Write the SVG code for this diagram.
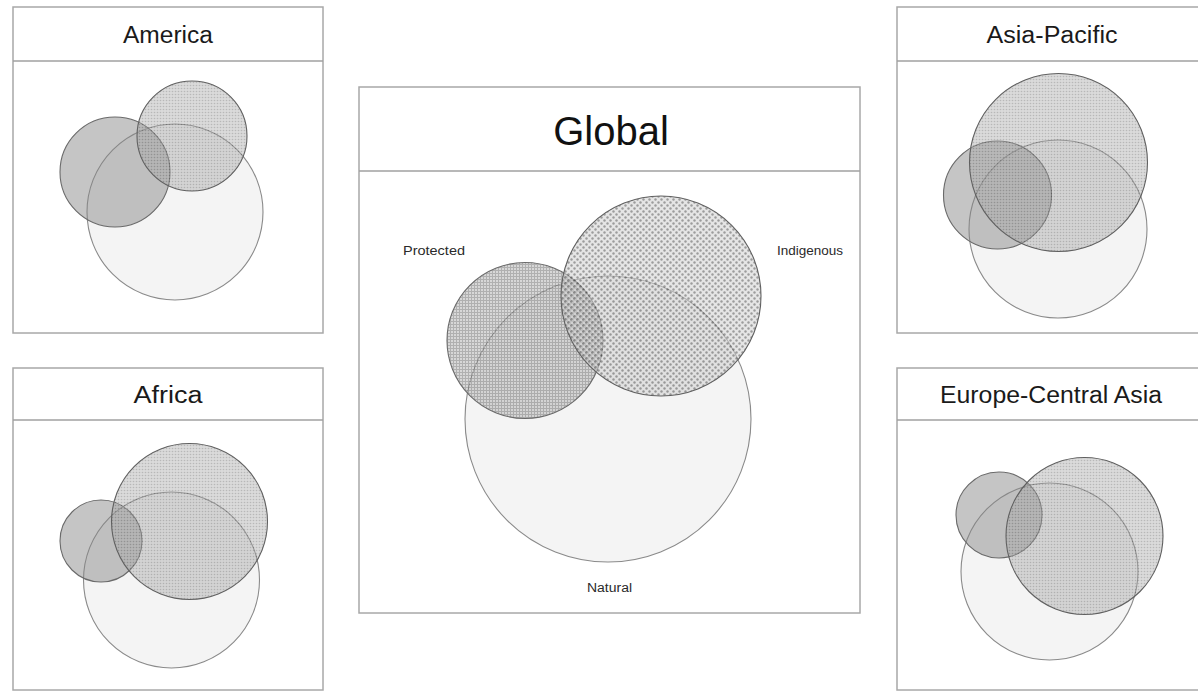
<svg xmlns="http://www.w3.org/2000/svg" width="1198" height="692" viewBox="0 0 1198 692">
<style>
.panel{fill:#fff;stroke:#a8a8a8;stroke-width:1.5}
.hdr{stroke:#a0a0a0;stroke-width:1.5}
.title{font-family:"Liberation Sans",Arial,sans-serif;font-size:23px;fill:#1a1a1a;text-anchor:middle}
.gtitle{font-family:"Liberation Sans",Arial,sans-serif;font-size:40px;fill:#111;text-anchor:middle}
.lbl{font-family:"Liberation Sans",Arial,sans-serif;font-size:12.5px;fill:#2a2a2a;text-anchor:middle}
.nat{fill:#f4f4f4;stroke:#8a8a8a;stroke-width:1.1}
.pro{fill:#858585;fill-opacity:.48;stroke:#6a6a6a;stroke-width:1.1}
.ind{fill:url(#dotsS);fill-opacity:.42;stroke:#606060;stroke-width:1.1}
.gpro{fill:url(#grid);fill-opacity:.6;stroke:#6a6a6a;stroke-width:1.1}
.gind{fill:url(#dotsL);fill-opacity:.55;stroke:#606060;stroke-width:1.1}
</style>
<defs>
<pattern id="dotsS" width="3" height="3" patternUnits="userSpaceOnUse"><rect width="3" height="3" fill="#a6a6a6"/><circle cx="1.5" cy="1.5" r="0.8" fill="#555"/></pattern>
<pattern id="dotsL" width="6" height="6" patternUnits="userSpaceOnUse"><rect width="6" height="6" fill="#cfcfcf"/><circle cx="1.5" cy="1.5" r="1.2" fill="#4a4a4a"/><circle cx="4.5" cy="4.5" r="1.2" fill="#4a4a4a"/></pattern>
<pattern id="grid" width="3" height="3" patternUnits="userSpaceOnUse"><rect width="3" height="3" fill="#bdbdbd"/><path d="M0 0.5H3M0.5 0V3" stroke="#7c7c7c" stroke-width="1"/></pattern>
</defs>
<rect width="1198" height="692" fill="#fff"/>

<g id="america">
<rect class="panel" x="13" y="7" width="310" height="326"/>
<line class="hdr" x1="13" y1="61" x2="323" y2="61"/>
<text class="title" x="168" y="43" textLength="90" lengthAdjust="spacingAndGlyphs">America</text>
<circle class="nat" cx="175" cy="212" r="88"/>
<circle class="pro" cx="115" cy="172" r="55"/>
<circle class="ind" cx="192" cy="136" r="55"/>
</g>

<g id="africa">
<rect class="panel" x="13" y="368" width="310" height="322"/>
<line class="hdr" x1="13" y1="420" x2="323" y2="420"/>
<text class="title" x="168" y="403" textLength="69" lengthAdjust="spacingAndGlyphs">Africa</text>
<circle class="nat" cx="171.5" cy="580" r="88"/>
<circle class="pro" cx="101" cy="541" r="41"/>
<circle class="ind" cx="189.5" cy="521.5" r="78"/>
</g>

<g id="global">
<rect class="panel" x="359" y="87" width="501" height="526"/>
<line class="hdr" x1="359" y1="171" x2="860" y2="171"/>
<text class="gtitle" x="611" y="145">Global</text>
<circle class="nat" cx="608" cy="419" r="143"/>
<circle class="gpro" cx="525" cy="340.5" r="78"/>
<circle class="gind" cx="661" cy="296" r="100"/>
<text class="lbl" x="434" y="255" textLength="62" lengthAdjust="spacingAndGlyphs">Protected</text>
<text class="lbl" x="810" y="255" textLength="66" lengthAdjust="spacingAndGlyphs">Indigenous</text>
<text class="lbl" x="609.5" y="592" textLength="45" lengthAdjust="spacingAndGlyphs">Natural</text>
</g>

<g id="asia-pacific">
<rect class="panel" x="897" y="7" width="310" height="326"/>
<line class="hdr" x1="897" y1="61" x2="1207" y2="61"/>
<text class="title" x="1052" y="43" textLength="131" lengthAdjust="spacingAndGlyphs">Asia-Pacific</text>
<circle class="nat" cx="1058" cy="229" r="89"/>
<circle class="pro" cx="997.5" cy="195" r="54"/>
<circle class="ind" cx="1058.5" cy="162.5" r="89"/>
</g>

<g id="europe-central-asia">
<rect class="panel" x="897" y="368" width="310" height="322"/>
<line class="hdr" x1="897" y1="420" x2="1207" y2="420"/>
<text class="title" x="1051" y="403" textLength="222" lengthAdjust="spacingAndGlyphs">Europe-Central Asia</text>
<circle class="nat" cx="1049.5" cy="571.5" r="88.5"/>
<circle class="pro" cx="999" cy="515" r="43"/>
<circle class="ind" cx="1084.5" cy="536" r="78.5"/>
</g>
</svg>
